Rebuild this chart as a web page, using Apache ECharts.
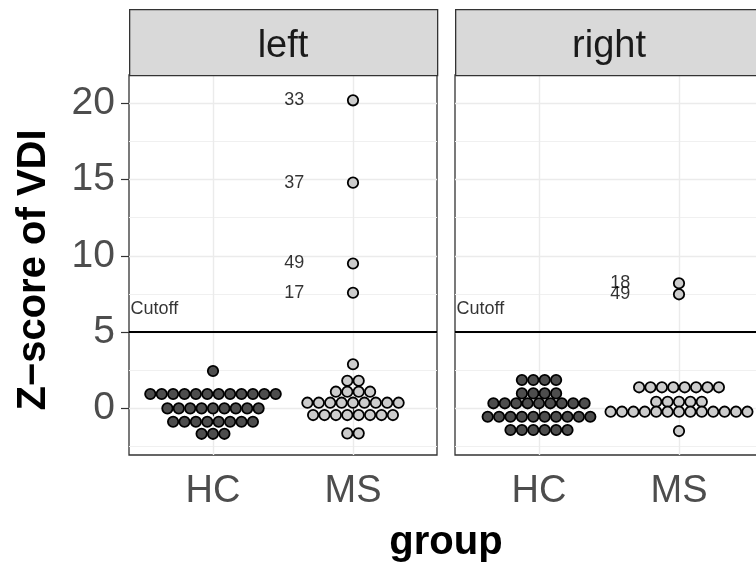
<!DOCTYPE html>
<html><head><meta charset="utf-8">
<script src="https://cdn.jsdelivr.net/npm/echarts@6/dist/echarts.min.js"></script>
<style>html,body{margin:0;padding:0;background:#fff}#c{width:756px;height:563px}</style>
</head><body><div id="c"></div><script>
// ---------- data ----------
const facets = ['left', 'right'];
const groups = ['HC', 'MS'];
const yTicks = [0, 5, 10, 15, 20];
const yMinorGrid = [-2.5, 2.5, 7.5, 12.5, 17.5];
const cutoff = 5;
const cutoffLabel = 'Cutoff';
const cutoffLabelY = 6.5;

const leftHC = [2.45,
  0.94, 0.94, 0.94, 0.94, 0.94, 0.94, 0.94, 0.94, 0.94, 0.94, 0.94, 0.94,
  0, 0, 0, 0, 0, 0, 0, 0, 0,
  -0.88, -0.88, -0.88, -0.88, -0.88, -0.88, -0.88, -0.88,
  -1.67, -1.67, -1.67];
const leftMS = [2.89, 1.81, 1.81, 1.09, 1.09, 1.09, 1.09,
  0.37, 0.37, 0.37, 0.37, 0.37, 0.37, 0.37, 0.37, 0.37,
  -0.44, -0.44, -0.44, -0.44, -0.44, -0.44, -0.44, -0.44,
  -1.64, -1.64];
const leftMSOutliers = [20.2, 14.8, 9.5, 7.58];
const leftMSOutlierIds = ['33', '37', '49', '17'];

const rightHC = [1.86, 1.86, 1.86, 1.86,
  0.98, 0.98, 0.98, 0.98,
  0.33, 0.33, 0.33, 0.33, 0.33, 0.33, 0.33, 0.33, 0.33,
  -0.55, -0.55, -0.55, -0.55, -0.55, -0.55, -0.55, -0.55, -0.55, -0.55,
  -1.42, -1.42, -1.42, -1.42, -1.42, -1.42];
const rightMS = [1.38, 1.38, 1.38, 1.38, 1.38, 1.38, 1.38, 1.38,
  0.43, 0.43, 0.43, 0.43, 0.43,
  -0.22, -0.22, -0.22, -0.22, -0.22, -0.22, -0.22, -0.22, -0.22, -0.22, -0.22, -0.22, -0.22,
  -1.49];
const rightMSOutliers = [8.2, 7.48];
const rightMSOutlierIds = ['18', '49'];

// ---------- layout / style ----------
const FONT = '"Liberation Sans", Arial, Helvetica, sans-serif';
const Y_MIN = -3.06, Y_MAX = 21.86;
const X_MIN = 0.4, X_MAX = 2.6;
const PANEL_W = 308, PANEL_TOP = 75, PANEL_H = 380;
const panelLeft = [129, 455];
const STEP_X = 11.4 / (PANEL_W / (X_MAX - X_MIN)); // dot step in x units
const LABEL_NUDGE = 0.42;
const fills = ['#4D4D4D', '#CCCCCC'];

const facetData = [
  { HC: leftHC, MS: leftMS.concat(leftMSOutliers), outVals: leftMSOutliers, outIds: leftMSOutlierIds },
  { HC: rightHC, MS: rightMS.concat(rightMSOutliers), outVals: rightMSOutliers, outIds: rightMSOutlierIds }
];

// centered dot stacking of equal-valued (binned) points
function stack(values, center) {
  const rows = new Map();
  values.forEach(v => { const k = v.toFixed(3); if (!rows.has(k)) rows.set(k, []); rows.get(k).push(v); });
  const pts = [];
  rows.forEach(arr => {
    const n = arr.length;
    arr.forEach((v, i) => pts.push([center + (i - (n - 1) / 2) * STEP_X, v]));
  });
  return pts;
}

const grid = [], xAxis = [], yAxis = [], series = [], graphic = [];
facets.forEach((f, gi) => {
  grid.push({ left: panelLeft[gi], top: PANEL_TOP, width: PANEL_W, height: PANEL_H,
    outerBoundsMode: 'none', containLabel: false,
    show: true, borderColor: '#333333', borderWidth: 1.3, backgroundColor: '#fff' });
  xAxis.push({ gridIndex: gi, type: 'value', min: X_MIN, max: X_MAX,
    axisLine: { show: false },
    axisTick: { show: true, customValues: [1, 2], length: 8, lineStyle: { color: '#333', width: 1.2 } },
    axisLabel: { customValues: [1, 2], formatter: v => groups[Math.round(v) - 1], fontSize: 38,
      color: '#4D4D4D', margin: 18, fontFamily: FONT },
    splitLine: { show: true, lineStyle: { color: '#EBEBEB', width: 1.4 } } });
  yAxis.push({ gridIndex: gi, type: 'value', min: Y_MIN, max: Y_MAX,
    axisLine: { show: false },
    axisTick: { show: gi === 0, customValues: yTicks, length: 8, lineStyle: { color: '#333', width: 1.2 } },
    axisLabel: { show: gi === 0, customValues: yTicks, fontSize: 39, color: '#4D4D4D', margin: 14, fontFamily: FONT },
    splitLine: { show: true, lineStyle: { color: '#EBEBEB', width: 1.4 } } });
  yAxis.push({ gridIndex: gi, type: 'value', min: Y_MIN, max: Y_MAX,
    axisLine: { show: false },
    axisTick: { show: false, customValues: yMinorGrid },
    axisLabel: { show: false },
    splitLine: { show: true, lineStyle: { color: '#F0F0F0', width: 1 } } });

  const fd = facetData[gi];
  groups.forEach((g, k) => {
    const s = { type: 'scatter', xAxisIndex: gi, yAxisIndex: 2 * gi, data: stack(fd[g], k + 1),
      symbol: 'circle', symbolSize: 10.4, z: 3,
      itemStyle: { color: fills[k], borderColor: '#000', borderWidth: 1.8, opacity: 1 }, silent: true };
    if (k === 0) {
      s.markLine = { silent: true, symbol: 'none', animation: false,
        lineStyle: { color: '#000', width: 2, type: 'solid' }, label: { show: false },
        data: [{ yAxis: cutoff }] };
    }
    series.push(s);
  });
  // outlier id labels
  series.push({ type: 'scatter', xAxisIndex: gi, yAxisIndex: 2 * gi, symbolSize: 1, silent: true,
    itemStyle: { color: 'rgba(0,0,0,0)' },
    data: fd.outVals.map((v, i) => ({ value: [2 - LABEL_NUDGE, v], name: fd.outIds[i] })),
    label: { show: true, position: 'inside', formatter: p => p.name, fontSize: 18, color: '#000', fontFamily: FONT } });
  // cutoff label
  series.push({ type: 'scatter', xAxisIndex: gi, yAxisIndex: 2 * gi, symbolSize: 1, silent: true,
    itemStyle: { color: 'rgba(0,0,0,0)' },
    data: [[X_MIN, cutoffLabelY]],
    label: { show: true, position: 'right', distance: 1, formatter: cutoffLabel, fontSize: 18, color: '#000', fontFamily: FONT } });

  // facet strip
  graphic.push({ type: 'rect', left: panelLeft[gi], top: 9, z: 10,
    shape: { width: PANEL_W, height: PANEL_TOP - 9 },
    style: { fill: '#D9D9D9', stroke: '#333333', lineWidth: 1.3 } });
  graphic.push({ type: 'text', x: panelLeft[gi] + PANEL_W / 2, y: 47, z: 11,
    style: { text: f, font: '38px ' + FONT, fill: '#1A1A1A', textAlign: 'center', textVerticalAlign: 'middle' } });
});

graphic.push({ type: 'text', x: 446, y: 543, z: 11,
  style: { text: 'group', font: 'bold 40px ' + FONT, fill: '#000', textAlign: 'center', textVerticalAlign: 'middle' } });
graphic.push({ type: 'text', x: 34, y: 270, rotation: Math.PI / 2, z: 11,
  style: { text: 'Z\u2212score of VDI', font: 'bold 40px ' + FONT, fill: '#000', textAlign: 'center', textVerticalAlign: 'middle' } });

const chart = echarts.init(document.getElementById('c'), null, { renderer: 'canvas' });
chart.setOption({ animation: false, backgroundColor: '#fff', grid, xAxis, yAxis, series, graphic });
</script></body></html>
